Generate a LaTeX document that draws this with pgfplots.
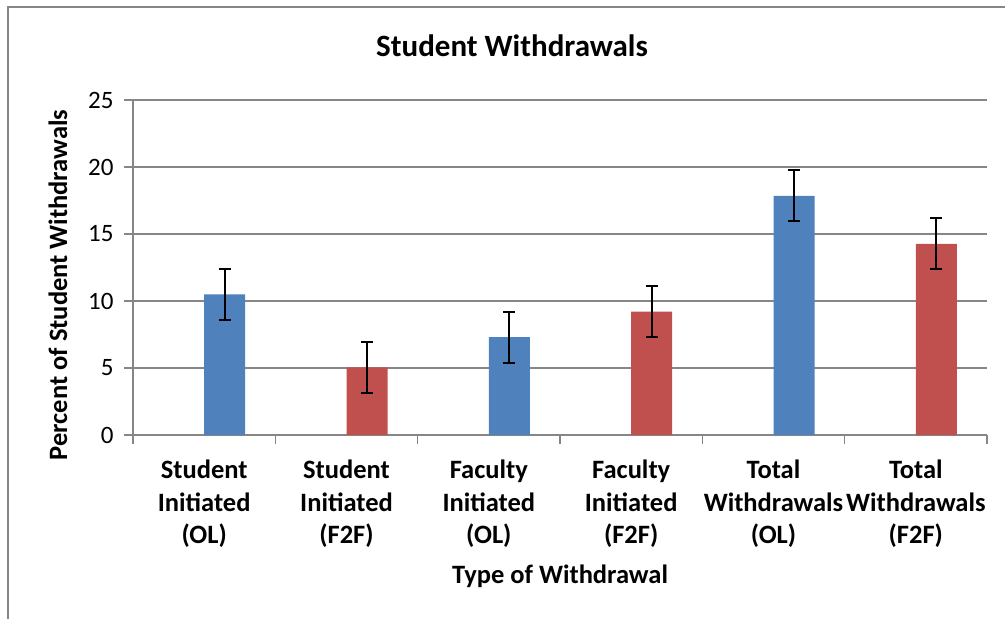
\documentclass[border=0pt]{standalone}
\usepackage{pgfplots}
\pgfplotsset{compat=1.18}
\usepackage{fontspec}
\setmainfont{Carlito}
\definecolor{olblue}{HTML}{4F81BD}
\definecolor{ffred}{HTML}{C0504D}
\definecolor{gridgray}{HTML}{868686}
\begin{document}
\begin{tikzpicture}[x=1bp,y=1bp]
\path[use as bounding box, fill=white] (0,0) rectangle (1005,-619);
\draw[gridgray, line width=2bp] (7.5,-640) -- (7.5,-7) -- (1030,-7);
\begin{axis}[
  at={(133bp,-435bp)}, anchor=south west,
  scale only axis, width=854bp, height=335bp,
  xmin=-0.5, xmax=5.5, ymin=0, ymax=25,
  axis x line*=bottom, axis y line*=left,
  axis line style={gridgray, line width=1.3bp, -},
  ytick={0,5,...,25},
  ymajorgrids, major grid style={gridgray, line width=1.3bp},
  tick align=outside, major tick length=9bp,
  tick style={gridgray, line width=1.3bp},
  xtick={-0.5,0.5,...,5.5}, xticklabels={},
  extra x ticks={0,1,2,3,4,5},
  extra x tick labels={{Student\\Initiated\\(OL)},{Student\\Initiated\\(F2F)},{Faculty\\Initiated\\(OL)},{Faculty\\Initiated\\(F2F)},{Total\\Withdrawals\\(OL)},{Total\\Withdrawals\\(F2F)}},
  extra x tick style={major tick length=0pt, tick style={draw=none}, grid=none,
    xticklabel style={align=center, anchor=north, inner sep=0pt, yshift=-25bp,
      font=\fontsize{26.5bp}{32.5bp}\selectfont\bfseries}},
  yticklabel style={font=\fontsize{25bp}{29bp}\selectfont, xshift=-7bp},
  /pgf/number format/assume math mode=true,
  every axis title shift=0pt,
  title={Student Withdrawals},
  title style={at={(axis description cs:0.4438,1.131)}, anchor=base, inner sep=0pt,
    font=\fontsize{31bp}{36bp}\selectfont\bfseries},
  ylabel={Percent of Student Withdrawals},
  ylabel style={at={(axis description cs:-0.0878,0.448)}, anchor=center, inner sep=0pt,
    font=\fontsize{26.5bp}{32bp}\selectfont\bfseries},
  xlabel={Type of Withdrawal},
  xlabel style={at={(axis description cs:0.5,-0.4418)}, anchor=base, inner sep=0pt,
    font=\fontsize{26.5bp}{32bp}\selectfont\bfseries},
  clip=false,
]
\addplot[ybar, bar width=41bp, bar shift=0bp, fill=olblue, draw=none,
  error bars/.cd, y dir=both, y explicit,
  error bar style={black, line width=2bp},
  error mark options={black, line width=2bp, mark size=6bp, rotate=90}]
  table[x=x, y=y, y error=e] {
x y e
0.144 10.5 1.9
2.144 7.3 1.9
4.144 17.85 1.9
};
\addplot[ybar, bar width=41bp, bar shift=0bp, fill=ffred, draw=none,
  error bars/.cd, y dir=both, y explicit,
  error bar style={black, line width=2bp},
  error mark options={black, line width=2bp, mark size=6bp, rotate=90}]
  table[x=x, y=y, y error=e] {
x y e
1.144 5.05 1.9
3.144 9.2 1.9
5.144 14.27 1.9
};
\end{axis}
\end{tikzpicture}
\end{document}
